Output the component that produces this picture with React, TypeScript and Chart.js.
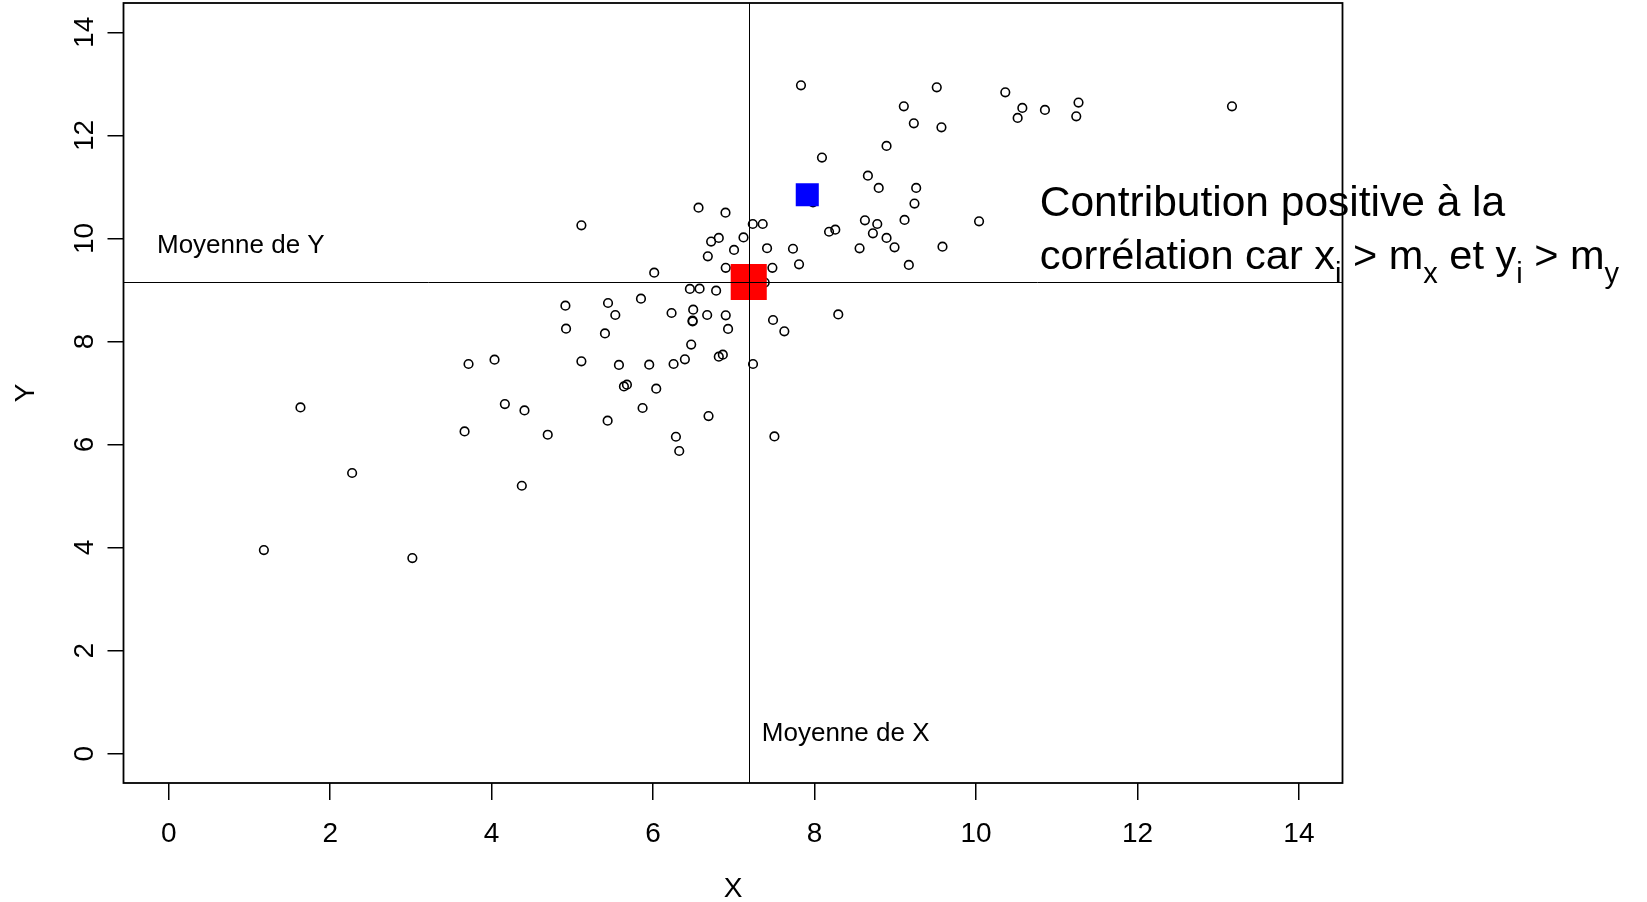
import React, { useEffect, useRef } from 'react';
import { Chart, registerables } from 'chart.js';

Chart.register(...registerables);

// ---- data ----
const X_VALUES = [
  6.563, 6.897, 5.112, 7.235, 7.358, 8.18, 8.257, 6.814, 6.719, 7.12,
  7.003, 7.412, 7.733, 6.678, 7.808, 6.014, 6.9, 7.478, 7.383, 6.456,
  6.576, 6.781, 5.85, 4.914, 5.442, 5.532, 6.229, 6.497, 6.67, 6.9,
  6.489, 6.49, 8.294, 4.922, 5.404, 6.929, 7.486, 7.626, 6.472, 5.112,
  5.577, 5.952, 6.254, 6.394, 6.814, 6.864, 7.238, 4.164, 4.407, 4.695,
  5.437, 5.639, 5.676, 6.039, 5.87, 6.687, 6.283, 6.324, 7.503, 4.036,
  3.714, 1.632, 3.665, 2.272, 4.374, 1.179, 3.018, 7.832, 9.514, 10.363,
  9.106, 10.574, 10.516, 10.854, 11.27, 11.242, 13.171, 9.23, 9.572, 8.892,
  8.092, 8.661, 8.795, 9.259, 9.238, 7.981, 8.624, 8.777, 9.115, 10.038,
  8.723, 8.892, 8.991, 8.558, 9.585, 9.168,
];
const Y_VALUES = [
  10.598, 10.5, 10.254, 10.28, 10.28, 10.13, 10.17, 10.01, 9.94, 10.02,
  9.777, 9.81, 9.8, 9.653, 9.497, 9.336, 9.43, 9.43, 9.143, 9.02,
  9.025, 8.986, 8.83, 8.695, 8.747, 8.514, 8.553, 8.618, 8.514, 8.507,
  8.404, 8.39, 8.526, 8.249, 8.157, 8.243, 8.417, 8.197, 7.94, 7.614,
  7.544, 7.55, 7.563, 7.653, 7.705, 7.744, 7.563, 6.786, 6.662, 6.19,
  6.462, 7.128, 7.161, 7.083, 6.709, 6.553, 6.151, 5.874, 6.157, 7.647,
  7.563, 6.72, 6.254, 5.447, 5.2, 3.951, 3.796, 12.973, 12.934, 12.837,
  12.565, 12.534, 12.34, 12.495, 12.637, 12.371, 12.565, 12.235, 12.157, 11.796,
  11.569, 11.219, 10.98, 10.98, 10.676, 10.7, 10.352, 10.28, 10.359, 10.332,
  10.1, 10.01, 9.827, 9.808, 9.841, 9.485,
];
const MEAN_X = 7.185;
const MEAN_Y = 9.155;
const HIGHLIGHT_X = [7.91];
const HIGHLIGHT_Y = [10.85];
const X_TICKS = [0, 2, 4, 6, 8, 10, 12, 14];
const Y_TICKS = [0, 2, 4, 6, 8, 10, 12, 14];
const X_TITLE = 'X';
const Y_TITLE = 'Y';
const LABEL_MEAN_Y = 'Moyenne de Y';
const LABEL_MEAN_X = 'Moyenne de X';
const NOTE_LINE_1 = 'Contribution positive à la';
// segments of line 2: [text, isSubscript]
const NOTE_LINE_2: [string, boolean][] = [
  ['corrélation car x', false],
  ['i', true],
  [' > m', false],
  ['x', true],
  [' et y', false],
  ['i', true],
  [' > m', false],
  ['y', true],
];

const FONT = '"Liberation Sans", Arial, Helvetica, sans-serif';

const overlayPlugin = {
  id: 'overlay',
  afterDatasetsDraw(chart: any) {
    const { ctx, chartArea: a, scales } = chart;
    const x = scales.x;
    const y = scales.y;
    ctx.save();
    ctx.strokeStyle = '#000';
    ctx.lineWidth = 1;
    const mx = Math.round(x.getPixelForValue(MEAN_X)) + 0.5;
    const my = Math.round(y.getPixelForValue(MEAN_Y)) + 0.5;
    ctx.beginPath();
    ctx.moveTo(mx, a.top);
    ctx.lineTo(mx, a.bottom);
    ctx.moveTo(a.left, my);
    ctx.lineTo(a.right, my);
    ctx.stroke();
    ctx.lineWidth = 1.8;
    ctx.strokeRect(a.left, a.top, a.right - a.left, a.bottom - a.top);
    ctx.restore();
  },
  afterDraw(chart: any) {
    const { ctx, chartArea: a, scales } = chart;
    const x = scales.x;
    const y = scales.y;
    ctx.save();
    ctx.fillStyle = '#000';

    // x tick labels
    ctx.font = `28px ${FONT}`;
    ctx.textAlign = 'center';
    ctx.textBaseline = 'alphabetic';
    X_TICKS.forEach((v) => {
      ctx.fillText(String(v), x.getPixelForValue(v), a.bottom + 59);
    });
    // y tick labels, rotated
    Y_TICKS.forEach((v) => {
      ctx.save();
      ctx.translate(a.left - 30.5, y.getPixelForValue(v));
      ctx.rotate(-Math.PI / 2);
      ctx.fillText(String(v), 0, 0);
      ctx.restore();
    });
    // axis titles
    ctx.fillText(X_TITLE, (a.left + a.right) / 2, a.bottom + 114);
    ctx.save();
    ctx.translate(34, (a.top + a.bottom) / 2);
    ctx.rotate(-Math.PI / 2);
    ctx.fillText(Y_TITLE, 0, 0);
    ctx.restore();

    // mean labels
    ctx.font = `26px ${FONT}`;
    ctx.textAlign = 'left';
    ctx.fillText(LABEL_MEAN_Y, x.getPixelForValue(-0.145), y.getPixelForValue(9.715));
    ctx.fillText(LABEL_MEAN_X, x.getPixelForValue(7.347), y.getPixelForValue(0.239));

    // note
    const nx = x.getPixelForValue(10.79);
    const ny = y.getPixelForValue(10.433);
    ctx.font = `42.5px ${FONT}`;
    ctx.fillText(NOTE_LINE_1, nx, ny);
    let cx = nx;
    const ny2 = ny + 53;
    NOTE_LINE_2.forEach(([t, sub]) => {
      ctx.font = sub ? `29px ${FONT}` : `41.5px ${FONT}`;
      ctx.fillText(t, cx, sub ? ny2 + 14 : ny2);
      cx += ctx.measureText(t).width;
    });
    ctx.restore();
  },
};

export default function App() {
  const ref = useRef<HTMLCanvasElement | null>(null);
  useEffect(() => {
    if (!ref.current) return;
    const points = X_VALUES.map((v, i) => ({ x: v, y: Y_VALUES[i] }));
    const chart = new Chart(ref.current, {
      type: 'scatter',
      data: {
        datasets: [
          {
            label: 'Moyenne',
            data: [{ x: MEAN_X, y: MEAN_Y }],
            pointStyle: 'rect',
            pointRadius: 25.5,
            backgroundColor: '#ff0000',
            borderWidth: 0,
          },
          {
            label: 'Point',
            data: HIGHLIGHT_X.map((v, i) => ({ x: v, y: HIGHLIGHT_Y[i] })),
            pointStyle: 'rect',
            pointRadius: 16.3,
            backgroundColor: '#0000ff',
            borderWidth: 0,
          },
          {
            label: 'Observations',
            data: points,
            pointStyle: 'circle',
            pointRadius: 4.3,
            borderWidth: 1.6,
            borderColor: '#000',
            backgroundColor: 'rgba(0,0,0,0)',
          },
        ],
      },
      options: {
        animation: false,
        responsive: false,
        devicePixelRatio: 1,
        events: [],
        layout: { autoPadding: false, padding: { left: 0, top: 3, right: 304.5, bottom: 0 } },
        plugins: { legend: { display: false }, tooltip: { enabled: false } },
        scales: {
          x: {
            type: 'linear',
            min: -0.56,
            max: 14.54,
            afterBuildTicks: (s: any) => {
              s.ticks = X_TICKS.map((v) => ({ value: v }));
            },
            afterFit: (s: any) => {
              s.height = 119;
            },
            grid: {
              drawOnChartArea: false,
              drawTicks: true,
              tickLength: 17,
              color: '#000',
              lineWidth: 1.5,
            },
            border: { display: false },
            ticks: { display: false },
          },
          y: {
            type: 'linear',
            min: -0.57,
            max: 14.57,
            afterBuildTicks: (s: any) => {
              s.ticks = Y_TICKS.map((v) => ({ value: v }));
            },
            afterFit: (s: any) => {
              s.width = 123.5;
            },
            grid: {
              drawOnChartArea: false,
              drawTicks: true,
              tickLength: 16,
              color: '#000',
              lineWidth: 1.5,
            },
            border: { display: false },
            ticks: { display: false },
          },
        },
      },
      plugins: [overlayPlugin],
    });
    return () => chart.destroy();
  }, []);
  return (
    <div style={{ position: 'absolute', left: 0, top: 0, width: 1647, height: 902, background: '#fff' }}>
      <canvas ref={ref} width={1647} height={902} style={{ display: 'block' }} />
    </div>
  );
}
